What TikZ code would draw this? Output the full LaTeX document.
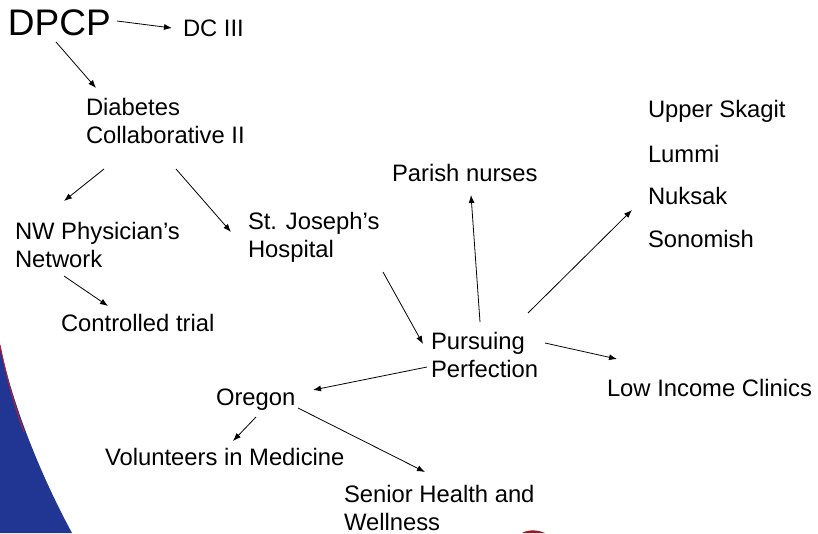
\documentclass[tikz,border=0pt]{standalone}
\usepackage{fontspec}
\setmainfont{Liberation Sans}
\usetikzlibrary{arrows.meta,calc}
\definecolor{bgblue}{RGB}{32,54,146}
\definecolor{bgred}{RGB}{190,30,45}
\tikzset{
  lbl/.style={anchor=base west, inner sep=0pt, outer sep=0pt, font=\fontsize{23.8}{28}\selectfont},
  big/.style={anchor=base west, inner sep=0pt, outer sep=0pt, font=\fontsize{37}{42}\selectfont},
  arr/.style={-{Latex[length=8pt,width=6pt]}, line width=0.8pt, black}
}
\newcommand{\twolines}[2]{\begin{tabular}[t]{@{}l@{}}#1\\#2\end{tabular}}
\begin{document}
\begin{tikzpicture}[x=1pt,y=-1pt]
\useasboundingbox (0,0) rectangle (818,533);
\fill[white] (0,0) rectangle (818,533);
% background decoration
\fill[bgblue] (0,345) .. controls (12,402) and (38,470) .. (72,533) -- (0,533) -- cycle;
\draw[bgred, line width=1pt] (0,345) .. controls (6,375) and (14,405) .. (24,432);
\fill[bgred!80!black] (522,533) .. controls (528,529.5) and (537,529.5) .. (545,533) -- cycle;
% nodes
\node[big] (dpcp) at (8,35) {DPCP};
\node[lbl] (dc3) at (183,36) {DC III};
\node[lbl] (dia) at (86,115) {\twolines{Diabetes}{Collaborative II}};
\node[lbl] (nw) at (15,239) {\twolines{NW Physician’s}{Network}};
\node[lbl] (stj) at (248,229) {\twolines{St. Joseph’s}{Hospital}};
\node[lbl] (ctrl) at (61,331) {Controlled trial};
\node[lbl] (parish) at (392,181) {Parish nurses};
\node[lbl] (upper) at (648,117) {Upper Skagit};
\node[lbl] (lummi) at (648,162) {Lummi};
\node[lbl] (nuksak) at (648,204) {Nuksak};
\node[lbl] (sono) at (648,247) {Sonomish};
\node[lbl] (purs) at (431,349) {\twolines{Pursuing}{Perfection}};
\node[lbl] (low) at (607,396) {Low Income Clinics};
\node[lbl] (oregon) at (216,405) {Oregon};
\node[lbl] (vol) at (105,465) {Volunteers in Medicine};
\node[lbl] (senior) at (344,502) {\twolines{Senior Health and}{Wellness}};
% connectors
\draw[arr] ($(dpcp.base west)+(109,-14)$) -- ($(dc3.base west)+(-11,-8)$);
\draw[arr] ($(dpcp.base west)+(48,7)$) -- ($(dia.base west)+(10,-27)$);
\draw[arr] ($(dia.base west)+(18,54)$) -- ($(nw.base west)+(49,-38)$);
\draw[arr] ($(dia.base west)+(90,54)$) -- ($(stj.base west)+(-17,3)$);
\draw[arr] ($(nw.base west)+(49,37)$) -- ($(ctrl.base west)+(47,-25)$);
\draw[arr] ($(stj.base west)+(135,43)$) -- ($(purs.base west)+(-8,-5)$);
\draw[arr] ($(purs.base west)+(49,-27)$) -- ($(parish.base west)+(79,14)$);
\draw[arr] ($(purs.base west)+(97,-36)$) -- ($(nuksak.base west)+(-16,6)$);
\draw[arr] ($(purs.base west)+(114,-6)$) -- ($(low.base west)+(10,-37)$);
\draw[arr] ($(purs.base west)+(-4,18)$) -- ($(oregon.base west)+(97,-15)$);
\draw[arr] ($(oregon.base west)+(40,12)$) -- ($(vol.base west)+(128,-24)$);
\draw[arr] ($(oregon.base west)+(82,3)$) -- ($(senior.base west)+(81,-30)$);
\end{tikzpicture}
\end{document}
